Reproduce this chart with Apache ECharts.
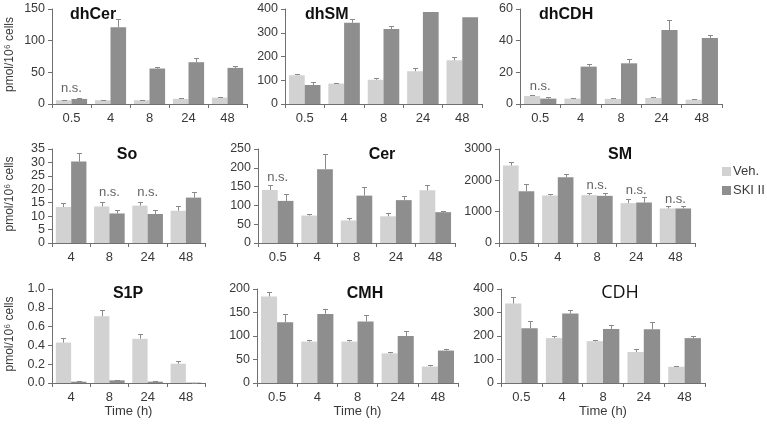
<!DOCTYPE html>
<html><head><meta charset="utf-8">
<script src="https://cdn.jsdelivr.net/npm/echarts@6/dist/echarts.min.js"></script>
<style>html,body{margin:0;padding:0;background:#fff}#c{width:767px;height:425px}</style>
</head><body><div id="c"></div>
<script>
// ---------- data ----------
const cats5 = ['0.5', '4', '8', '24', '48'];
const cats4 = ['4', '8', '24', '48'];
const seriesNames = ['Veh.', 'SKI II'];

const dhCerVeh = [6, 6, 6, 8, 10];
const dhCerVehErr = [0.5, 0.5, 0.5, 1, 1];
const dhCerSki = [8, 121, 56, 66, 57];
const dhCerSkiErr = [1, 14, 3, 7, 3];

const dhSMVeh = [121, 86, 102, 138, 184];
const dhSMVehErr = [7, 1, 9, 12, 15];
const dhSMSki = [80, 342, 316, 387, 365];
const dhSMSkiErr = [11, 16, 14, 0, 0];

const dhCDHVeh = [5, 3.4, 3.2, 3.8, 2.7];
const dhCDHVehErr = [1, 0.3, 0.4, 0.5, 0.3];
const dhCDHSki = [3.4, 23.6, 25.7, 46.7, 41.7];
const dhCDHSkiErr = [0.8, 1.4, 2.5, 6.3, 1.9];

const SoVeh = [13.4, 13.6, 13.9, 12.0];
const SoVehErr = [1.4, 1.6, 1.4, 1.6];
const SoSki = [30.3, 11.0, 10.8, 16.9];
const SoSkiErr = [3.1, 1.4, 1.4, 2.0];

const CerVeh = [141, 73, 60, 71, 140];
const CerVehErr = [12, 4, 6, 8, 14];
const CerSki = [112, 196, 126, 114, 82];
const CerSkiErr = [18, 41, 22, 10, 4];

const SMVeh = [2470, 1516, 1527, 1272, 1102];
const SMVehErr = [106, 53, 84, 127, 64];
const SMSki = [1654, 2099, 1505, 1293, 1102];
const SMSkiErr = [233, 95, 106, 191, 75];

const S1PVeh = [0.43, 0.71, 0.47, 0.205];
const S1PVehErr = [0.05, 0.07, 0.05, 0.028];
const S1PSki = [0.014, 0.028, 0.014, 0.004];
const S1PSkiErr = [0.002, 0.007, 0.002, 0.001];

const CMHVeh = [184, 88, 88, 63, 35];
const CMHVehErr = [9, 4, 4, 3, 3];
const CMHSki = [129, 147, 131, 100, 69];
const CMHSkiErr = [18, 11, 13, 10, 3];

const CDHVeh = [338, 191, 178, 132, 69];
const CDHVehErr = [28, 7, 7, 14, 4];
const CDHSki = [233, 296, 230, 229, 191];
const CDHSkiErr = [32, 16, 18, 31, 7];

// n.s. annotations: [category index, y value]
const dhCerNS = [[0, 25]];
const dhCDHNS = [[0, 11.4]];
const SoNS = [[1, 19], [2, 19]];
const CerNS = [[0, 175]];
const SMNS = [[2, 1850], [3, 1690], [4, 1400]];

const axisMax = {dhCer: 150, dhSM: 400, dhCDH: 60, So: 35, Cer: 250, SM: 3000, S1P: 1.0, CMH: 200, CDH: 400};
const axisStep = {dhCer: 50, dhSM: 100, dhCDH: 20, So: 5, Cer: 50, SM: 1000, S1P: 0.2, CMH: 50, CDH: 100};

const panels = [
  {t: 'dhCer', cats: cats5, v: dhCerVeh, ve: dhCerVehErr, s: dhCerSki, se: dhCerSkiErr, ns: dhCerNS},
  {t: 'dhSM', cats: cats5, v: dhSMVeh, ve: dhSMVehErr, s: dhSMSki, se: dhSMSkiErr, ns: []},
  {t: 'dhCDH', cats: cats5, v: dhCDHVeh, ve: dhCDHVehErr, s: dhCDHSki, se: dhCDHSkiErr, ns: dhCDHNS},
  {t: 'So', cats: cats4, v: SoVeh, ve: SoVehErr, s: SoSki, se: SoSkiErr, ns: SoNS},
  {t: 'Cer', cats: cats5, v: CerVeh, ve: CerVehErr, s: CerSki, se: CerSkiErr, ns: CerNS},
  {t: 'SM', cats: cats5, v: SMVeh, ve: SMVehErr, s: SMSki, se: SMSkiErr, ns: SMNS},
  {t: 'S1P', cats: cats4, v: S1PVeh, ve: S1PVehErr, s: S1PSki, se: S1PSkiErr, ns: []},
  {t: 'CMH', cats: cats5, v: CMHVeh, ve: CMHVehErr, s: CMHSki, se: CMHSkiErr, ns: []},
  {t: 'CDH', cats: cats5, v: CDHVeh, ve: CDHVehErr, s: CDHSki, se: CDHSkiErr, ns: []}
];

// ---------- layout ----------
const layout = [
  {left: 52, right: 247, top: 9, bottom: 104, tx: 65, ty: 2, talign: 'left', yname: true},
  {left: 285, right: 482, top: 9, bottom: 104, tx: 300, ty: 2, talign: 'left'},
  {left: 520, right: 722, top: 9, bottom: 104, tx: 534, ty: 2, talign: 'left'},
  {left: 52, right: 205, top: 149, bottom: 243, tx: 122, ty: 142, talign: 'center', yname: true},
  {left: 258, right: 455, top: 149, bottom: 243, tx: 377, ty: 142, talign: 'center'},
  {left: 499, right: 695, top: 149, bottom: 243, tx: 615, ty: 142, talign: 'center'},
  {left: 52, right: 205, top: 289, bottom: 383, tx: 123, ty: 281, talign: 'center', yname: true, xname: true},
  {left: 257, right: 458, top: 289, bottom: 383, tx: 360, ty: 281, talign: 'center', xname: true},
  {left: 501, right: 705, top: 289, bottom: 383, tx: 615, ty: 279, talign: 'center', xname: true, light: true}
];

const VEH_COLOR = '#d2d2d2';
const SKI_COLOR = '#8e8e8e';
const ERR_COLOR = '#8a8a8a';
const AXIS_COLOR = '#707070';
const TEXT_COLOR = '#3a3a3a';
const FONT = '"Liberation Sans", Arial, sans-serif';
const CAT_GAP = 0.2;

function errRender(side) {
  return function (params, api) {
    const x = api.value(0), v = api.value(1), e = api.value(2);
    if (!(e > 0)) return null;
    const band = api.size([1, 0])[0];
    const off = band * (1 - CAT_GAP) / 4 * side;
    const p0 = api.coord([x, v]);
    const p1 = api.coord([x, v + e]);
    const cx = Math.round(p0[0] + off) + 0.5;
    const y1 = Math.round(p1[1]) + 0.5;
    return {
      type: 'group',
      children: [
        {type: 'line', shape: {x1: cx, y1: p0[1], x2: cx, y2: y1}, style: {stroke: ERR_COLOR, lineWidth: 1}},
        {type: 'line', shape: {x1: cx - 2.5, y1: y1, x2: cx + 2.5, y2: y1}, style: {stroke: ERR_COLOR, lineWidth: 1}}
      ]
    };
  };
}

const grids = [], xAxes = [], yAxes = [], series = [], titles = [];
panels.forEach((p, i) => {
  const L = layout[i];
  grids.push({left: L.left, top: L.top, width: L.right - L.left, height: L.bottom - L.top, containLabel: false});
  xAxes.push({
    type: 'category', gridIndex: i, data: p.cats, boundaryGap: true,
    axisLine: {lineStyle: {color: AXIS_COLOR, width: 1}},
    axisTick: {show: true, interval: 0, length: 4, lineStyle: {color: AXIS_COLOR}},
    axisLabel: {color: TEXT_COLOR, fontSize: 13, fontFamily: FONT, margin: 8, interval: 0},
    name: L.xname ? 'Time (h)' : '', nameLocation: 'middle', nameGap: 20,
    nameTextStyle: {color: TEXT_COLOR, fontSize: 13, fontFamily: FONT}
  });
  yAxes.push({
    type: 'value', gridIndex: i, min: 0, max: axisMax[p.t], interval: axisStep[p.t],
    splitLine: {show: false},
    axisLine: {show: true, lineStyle: {color: AXIS_COLOR, width: 1}},
    axisTick: {show: true, length: 4, lineStyle: {color: AXIS_COLOR}},
    axisLabel: {color: TEXT_COLOR, fontSize: 12.5, fontFamily: FONT, margin: 7,
      formatter: p.t === 'S1P' ? (v => v.toFixed(1)) : (v => String(v))},
    name: L.yname ? 'pmol/10\u2076 cells' : '', nameLocation: 'middle', nameGap: 36,
    nameTextStyle: {color: TEXT_COLOR, fontSize: 12, fontFamily: FONT, padding: [0, 0, 0, 4]}
  });
  titles.push({
    text: p.t, left: L.tx, top: L.ty, textAlign: L.talign,
    textStyle: {fontSize: L.light ? 18 : 16, fontWeight: L.light ? 'normal' : 'bold', color: '#111', fontFamily: L.light ? '"Open Sans", "Liberation Sans", sans-serif' : FONT}
  });
  series.push({
    type: 'bar', name: seriesNames[0], xAxisIndex: i, yAxisIndex: i, data: p.v,
    barGap: '0%', barCategoryGap: (CAT_GAP * 100) + '%', itemStyle: {color: VEH_COLOR}, z: 2
  });
  series.push({
    type: 'bar', name: seriesNames[1], xAxisIndex: i, yAxisIndex: i, data: p.s,
    barGap: '0%', barCategoryGap: (CAT_GAP * 100) + '%', itemStyle: {color: SKI_COLOR}, z: 2
  });
  series.push({
    type: 'custom', xAxisIndex: i, yAxisIndex: i, renderItem: errRender(-1),
    data: p.v.map((v, k) => [k, v, p.ve[k]]), z: 3, silent: true
  });
  series.push({
    type: 'custom', xAxisIndex: i, yAxisIndex: i, renderItem: errRender(1),
    data: p.s.map((v, k) => [k, v, p.se[k]]), z: 3, silent: true
  });
  if (p.ns.length) {
    series.push({
      type: 'scatter', xAxisIndex: i, yAxisIndex: i, data: p.ns, symbolSize: 1,
      itemStyle: {color: 'rgba(0,0,0,0)'}, silent: true,
      label: {show: true, position: 'inside', formatter: 'n.s.', color: TEXT_COLOR, fontSize: 13, fontFamily: FONT}
    });
  }
});

const chart = echarts.init(document.getElementById('c'), null, {renderer: 'canvas'});
chart.setOption({
  animation: false,
  backgroundColor: '#fff',
  title: titles,
  grid: grids, xAxis: xAxes, yAxis: yAxes, series: series,
  legend: {
    data: seriesNames, orient: 'vertical', left: 722, top: 165, itemWidth: 9, itemHeight: 9, itemGap: 6,
    padding: 0, icon: 'rect',
    textStyle: {color: TEXT_COLOR, fontSize: 13, fontFamily: FONT, padding: [0, 0, 0, -3]}
  }
});
</script></body></html>
